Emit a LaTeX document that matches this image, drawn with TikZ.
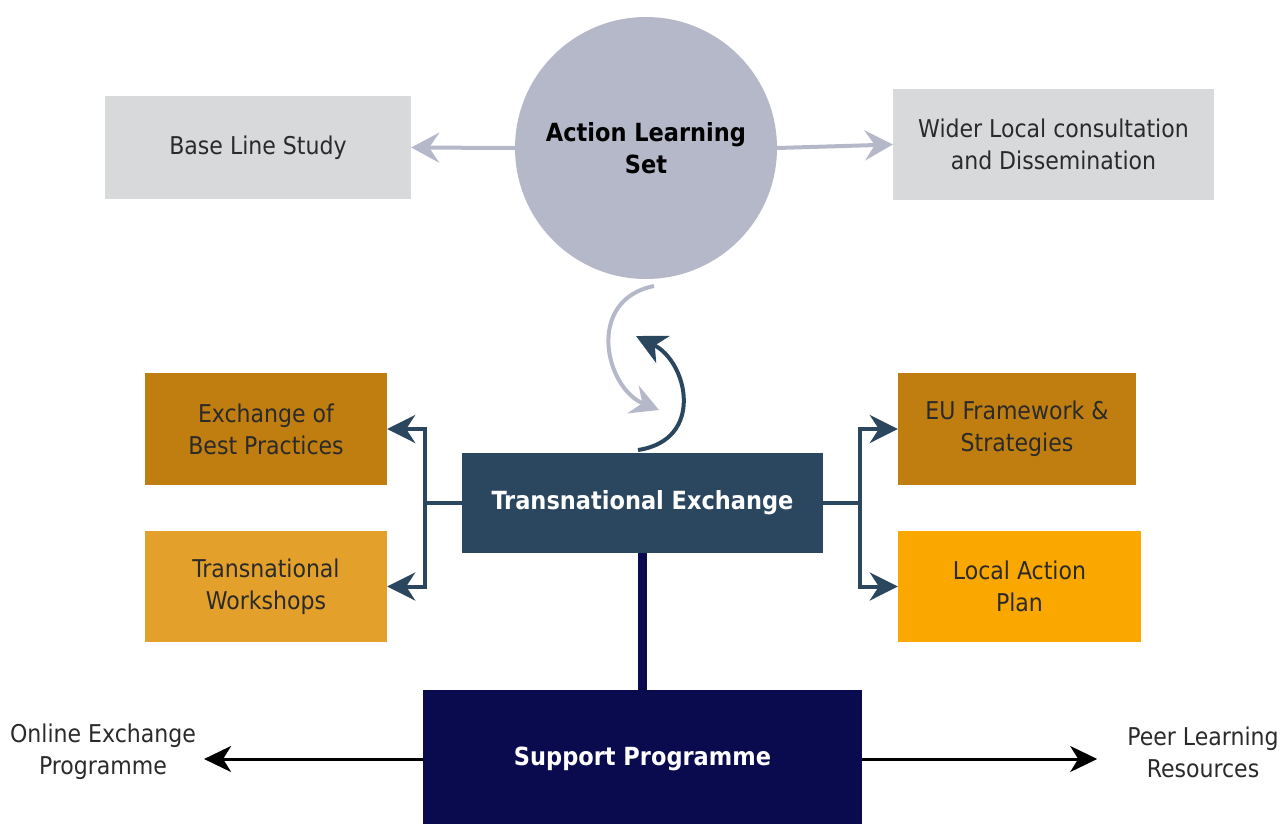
\documentclass[tikz,border=0pt]{standalone}
\usepackage{fontspec}
\setmainfont{DejaVu Sans Condensed}
\usetikzlibrary{arrows.meta}
\definecolor{setgrey}{HTML}{B5B8C9}
\definecolor{boxgrey}{HTML}{D8D9DB}
\definecolor{ochre}{HTML}{C07E10}
\definecolor{gold}{HTML}{E3A12B}
\definecolor{amber}{HTML}{FAA800}
\definecolor{slate}{HTML}{2B465F}
\definecolor{navy}{HTML}{0A0A4F}
\definecolor{ink}{HTML}{2A2A2A}
\begin{document}
\begin{tikzpicture}[x=1pt,y=-1pt,
  lbl/.style={inner sep=0pt, align=center, font=\fontsize{24.5}{32}\selectfont, text=ink},
  box/.style={lbl, rectangle},
  boldbox/.style={box, text=white, font=\fontsize{25}{32}\selectfont\bfseries},
  greytip/.style={-{Stealth[length=28pt,width=30pt,inset=10pt]}},
  bracket/.style={slate, line width=4pt},
  brtip/.style={bracket, -{Stealth[length=28pt,width=28pt,inset=9pt]}},
  blacktip/.style={black, line width=3pt, -{Stealth[length=27pt,width=26pt,inset=8pt]}},
]
\useasboundingbox (0,0) rectangle (1280,823);

% top row
\node[box, fill=boxgrey, minimum width=306pt, minimum height=103pt] (bls) at (258,147.5) {Base Line Study};
\node[box, fill=boxgrey, minimum width=321pt, minimum height=111pt] (wlc) at (1053.5,144.5) {Wider Local consultation\\and Dissemination};
\node[lbl, circle, fill=setgrey, minimum size=262pt, font=\fontsize{25}{32}\selectfont\bfseries, text=black] (als) at (646,148) {Action Learning\\Set};

\draw[setgrey, line width=4pt, greytip] (als.west) -- (bls.east);
\draw[setgrey, line width=4pt, greytip] (als.east) -- (wlc.west);

% middle tier
\node[box, fill=ochre, minimum width=242pt, minimum height=112pt] (ebp) at (266,429) {Exchange of\\Best Practices};
\node[box, fill=gold, minimum width=242pt, minimum height=111pt] (tw) at (266,586.5) {Transnational\\Workshops};
\node[box, fill=ochre, minimum width=238pt, minimum height=112pt] (euf) at (1017,429) {EU Framework \&\\Strategies};
\node[box, fill=amber, minimum width=243pt, minimum height=111pt] (lap) at (1019.5,586.5) {Local Action\\Plan};
\node[boldbox, fill=slate, minimum width=361pt, minimum height=100pt] (te) at (642.5,503) {Transnational Exchange};

% exchange cycle between the set and the transnational exchange
\coordinate (cycA) at (654,286);
\coordinate (cycB) at (659,410);
\coordinate (cycC) at (638,450);
\coordinate (cycD) at (636,336);
\draw[setgrey, line width=4pt, greytip] (cycA) .. controls (585,300) and (605,388) .. (cycB);
\draw[slate, line width=4pt, -{Stealth[length=30pt,width=30pt,inset=9pt]}] (cycC) .. controls (705,440) and (688,362) .. (cycD);

% brackets
\coordinate (lj) at (425,503);
\coordinate (rj) at (860,503);
\draw[bracket] (te.west) -- (lj);
\draw[brtip] (lj) |- (ebp.east);
\draw[brtip] (lj) |- (tw.east);
\draw[bracket] (te.east) -- (rj);
\draw[brtip] (rj) |- (euf.west);
\draw[brtip] (rj) |- (lap.west);

% support tier
\node[boldbox, fill=navy, minimum width=439pt, minimum height=138pt] (sp) at (642.5,759) {Support Programme};
\draw[navy, line width=9pt] (te.south) -- (sp.north);

\node[lbl, inner sep=4pt] (oep) at (103,752) {Online Exchange\\Programme};
\node[lbl, inner sep=4pt] (plr) at (1203,752) {Peer Learning\\Resources};
\draw[blacktip, shorten >=4pt] (sp.west) -- (oep.east |- sp.west);
\draw[blacktip, shorten >=26pt] (sp.east) -- (plr.west |- sp.east);
\end{tikzpicture}
\end{document}
